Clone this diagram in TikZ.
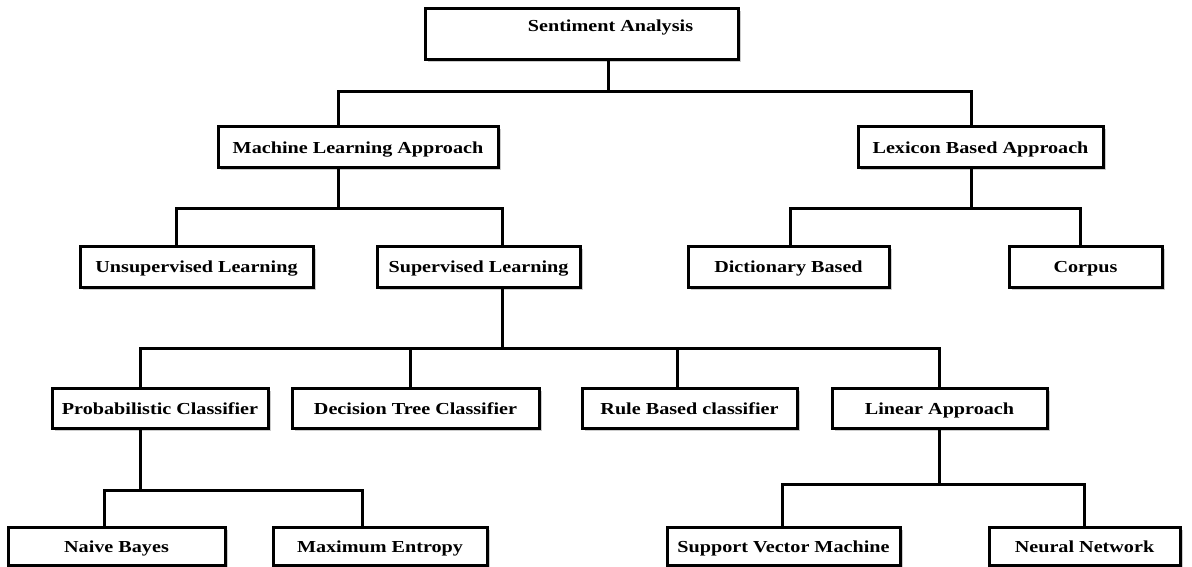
\documentclass[tikz,border=0pt]{standalone}
\usepackage{fontspec}
\newfontfamily\lblfont[FakeStretch=1.2]{Liberation Serif Bold}
\usetikzlibrary{shadows}

\begin{document}
\begin{tikzpicture}[x=1pt, y=-1pt,
    box/.style={draw=black, line width=3pt, fill=white, inner sep=0pt,
                minimum height=40pt, text height=15pt, text depth=3pt,
                font=\lblfont\fontsize{16.8}{18}\selectfont,
                drop shadow={shadow xshift=2.5pt, shadow yshift=-2.5pt, fill=black!40}},
    link/.style={draw=black, line width=3pt}]
  \useasboundingbox (0,0) rectangle (1192,567);

  % level 0 and 1
  \node [box, minimum width=313pt, minimum height=51pt,
         label={[font=\lblfont\fontsize{16.8}{18}\selectfont, xshift=29pt, yshift=7pt]center:Sentiment Analysis}]
        (sa) at (581.5,34.5) {};
  \node [box, minimum width=280pt, minimum height=41pt] (ml) at (358,147.5) {Machine Learning Approach};
  \node [box, minimum width=245pt, minimum height=41pt] (lex) at (980.5,147.5) {Lexicon Based Approach};

  % level 2
  \node [box, minimum width=233pt, minimum height=41pt] (unsup) at (196.5,266.5) {Unsupervised Learning};
  \node [box, minimum width=203pt, minimum height=41pt] (sup) at (478.5,266.5) {Supervised Learning};
  \node [box, minimum width=201pt, minimum height=41pt] (dict) at (788.5,266.5) {Dictionary Based};
  \node [box, minimum width=153pt, minimum height=41pt] (corpus) at (1085.5,266.5) {Corpus};

  % level 3
  \node [box, minimum width=216pt] (prob) at (160,408) {Probabilistic Classifier};
  \node [box, minimum width=247pt] (dtree) at (415.5,408) {Decision Tree Classifier};
  \node [box, minimum width=215pt] (rule) at (689.5,408) {Rule Based classifier};
  \node [box, minimum width=215pt] (linear) at (939.5,408) {Linear Approach};

  % level 4
  \node [box, minimum width=217pt, minimum height=38pt] (naive) at (116.5,546) {Naive Bayes};
  \node [box, minimum width=214pt, minimum height=38pt] (maxent) at (380,546) {Maximum Entropy};
  \node [box, minimum width=233pt, minimum height=38pt] (svm) at (783.5,546) {Support Vector Machine};
  \node [box, minimum width=191pt, minimum height=38pt] (neural) at (1084.5,546) {Neural Network};

  % connectors
  \draw [link] ([xshift=26.5pt]sa.south) -- ++(0,30) coordinate (j1);
  \draw [link] (j1) -| ([xshift=-20pt]ml.north);
  \draw [link] (j1) -| ([xshift=-9.5pt]lex.north);

  \draw [link] ([xshift=-20pt]ml.south) -- ++(0,39) coordinate (j2);
  \draw [link] (j2) -| ([xshift=-20.5pt]unsup.north);
  \draw [link] (j2) -| ([xshift=23.5pt]sup.north);

  \draw [link] ([xshift=-9.5pt]lex.south) -- ++(0,39) coordinate (j3);
  \draw [link] (j3) -| ([xshift=1.5pt]dict.north);
  \draw [link] (j3) -| ([xshift=-5.5pt]corpus.north);

  \draw [link] ([xshift=23.5pt]sup.south) -- ++(0,60) coordinate (j4);
  \draw [link] (j4) -| ([xshift=-20pt]prob.north);
  \draw [link] (j4) -| ([xshift=-5.5pt]dtree.north);
  \draw [link] (j4) -| ([xshift=-12.5pt]rule.north);
  \draw [link] (j4) -| (linear.north);

  \draw [link] ([xshift=-20pt]prob.south) -- ++(0,61) coordinate (j5);
  \draw [link] (j5) -| ([xshift=-12.5pt]naive.north);
  \draw [link] (j5) -| ([xshift=-18pt]maxent.north);

  \draw [link] (linear.south) -- ++(0,55) coordinate (j6);
  \draw [link] (j6) -| ([xshift=-1.5pt]svm.north);
  \draw [link] (j6) -| (neural.north);
\end{tikzpicture}
\end{document}
